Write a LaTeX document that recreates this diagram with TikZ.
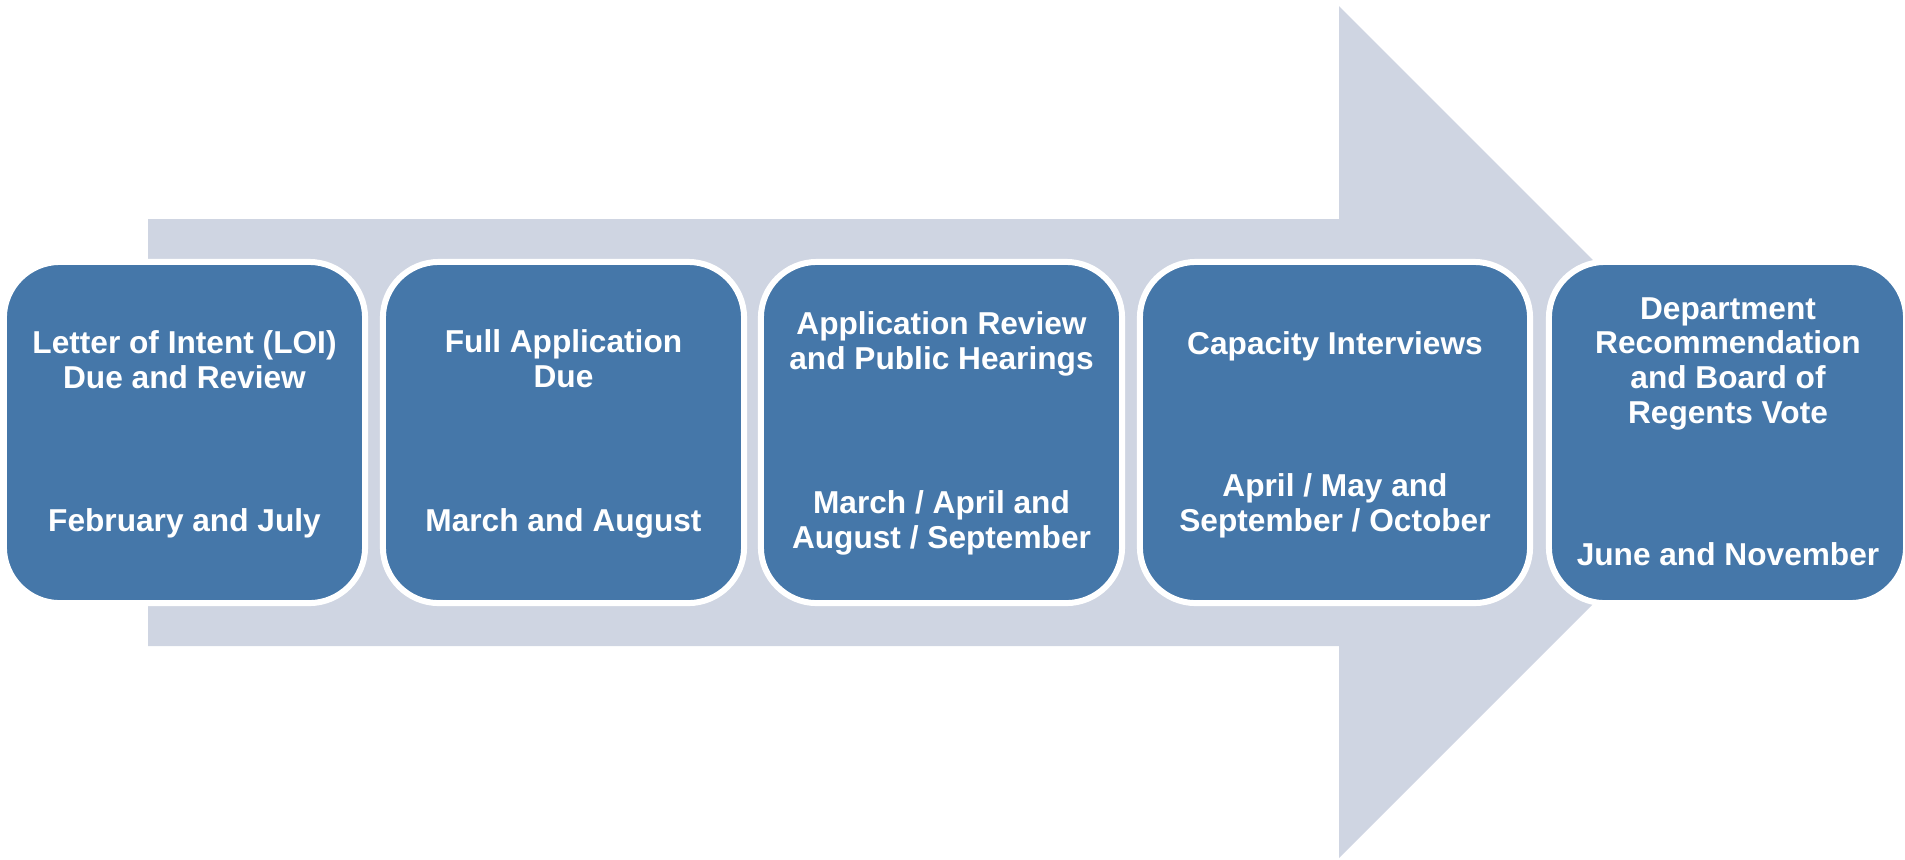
\documentclass[tikz,border=0pt]{standalone}
\usepackage{fontspec}
\setmainfont{Liberation Sans}
\definecolor{shaftgrey}{RGB}{207,213,226}
\definecolor{stageblue}{RGB}{69,119,169}

\begin{document}
\begin{tikzpicture}[x=0.01cm,y=-0.01cm,
    stage/.style={draw=white,line width=1.7pt,fill=stageblue,rounded corners=0.56cm,
      minimum height=3.41cm,inner sep=0pt},
    lbl/.style={text=white,font=\fontsize{9}{9.85}\selectfont\bfseries,
      align=center,anchor=base,inner sep=0pt}]
  \useasboundingbox (0,0) rectangle (1905,859);

  % big arrow behind the stages
  \fill[shaftgrey] (148,219) -- (1339,219) -- (1339,6) -- (1765,432)
    -- (1339,858) -- (1339,646) -- (148,646) -- cycle;

  \node[stage,minimum width=3.61cm] (s0) at (184.5,432.5){};
  \node[stage,minimum width=3.61cm] (s1) at (563.5,432.5){};
  \node[stage,minimum width=3.61cm] (s2) at (941.5,432.5){};
  \node[stage,minimum width=3.90cm] (s3) at (1335,432.5){};
  \node[stage,minimum width=3.57cm] (s4) at (1727.5,432.5){};

  % texts: y is the baseline of the last line
  \node[lbl] (t0) at (184.5,388){Letter of Intent (LOI)\\Due and Review};
  \node[lbl] (m0) at (184.5,531){February and July};

  \node[lbl] (t1) at (563.5,387){Full Application\\Due};
  \node[lbl] (m1) at (563.5,531){March and August};

  \node[lbl] (t2) at (941.5,369){Application Review\\and Public Hearings};
  \node[lbl] (m2) at (941.5,548){March / April and\\August / September};

  \node[lbl] (t3) at (1335,354){Capacity Interviews};
  \node[lbl] (m3) at (1335,531){April / May and\\September / October};

  \node[lbl] (t4) at (1728,423){Department\\Recommendation\\and Board of\\Regents Vote};
  \node[lbl] (m4) at (1728,565){June and November};
\end{tikzpicture}
\end{document}
